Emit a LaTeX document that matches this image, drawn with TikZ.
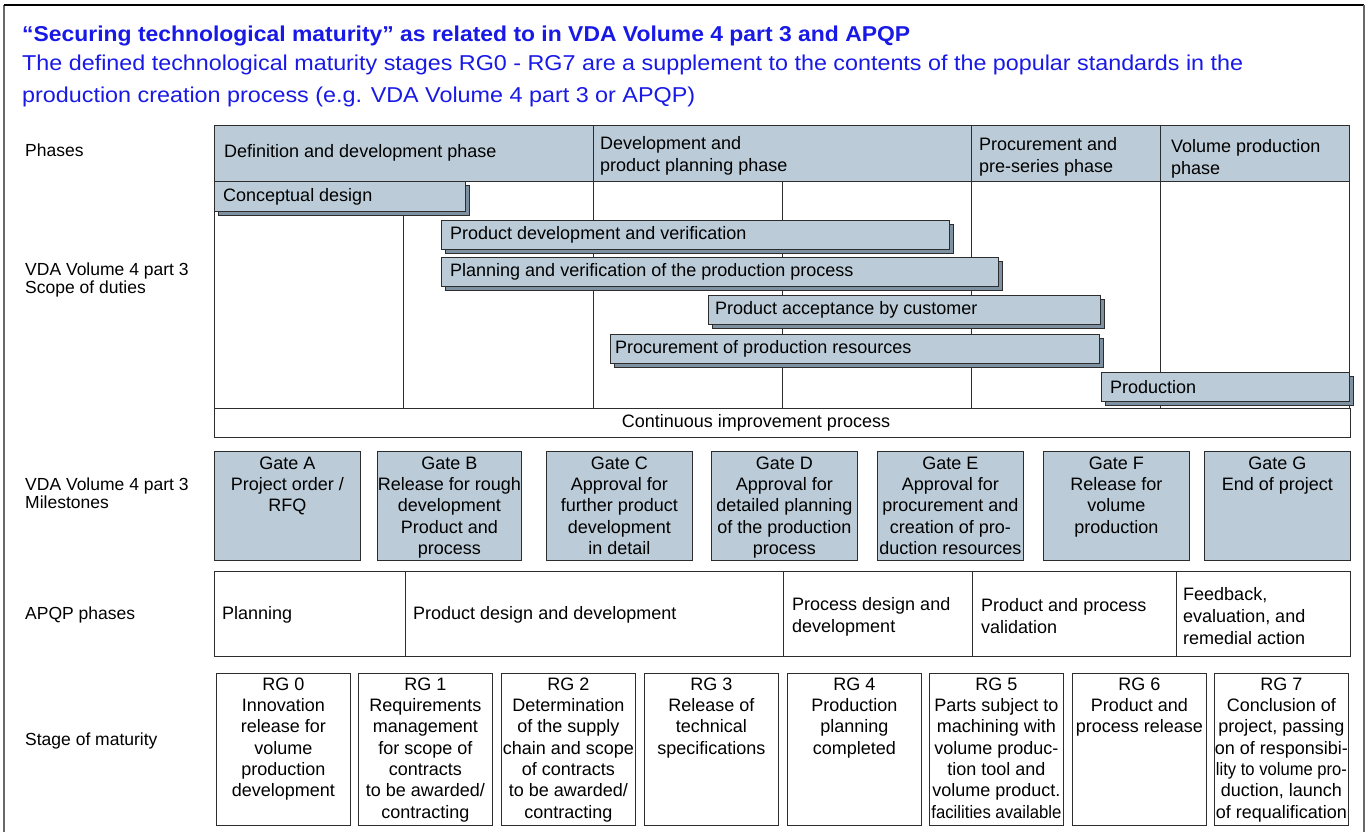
\documentclass[tikz,border=0pt]{standalone}
\usepackage{fontspec}
\setmainfont{Liberation Sans}
\usepackage{graphicx}
\usetikzlibrary{shadows}
\definecolor{tblue}{RGB}{25,25,230}
\definecolor{barfill}{RGB}{187,204,216}
\definecolor{shadfill}{RGB}{125,145,162}
\definecolor{edgecol}{RGB}{45,45,45}
\definecolor{framecol}{RGB}{105,105,105}
\newcommand\sqz[2]{\resizebox{#1pt}{\height}{#2}}
\begin{document}
\begin{tikzpicture}[x=1pt,y=-1pt,
  every node/.style={inner sep=0pt, font=\fontsize{18}{21.3}\selectfont},
  lbl/.style={anchor=west, align=left, font=\fontsize{17.5}{17.5}\selectfont},
  hdr/.style={anchor=west, align=left, font=\fontsize{18}{22}\selectfont},
  barbox/.style={draw=edgecol, fill=barfill, line width=1pt, anchor=north west,
     drop shadow={shadow xshift=4pt, shadow yshift=-4pt, fill=shadfill, draw=edgecol, opacity=1}},
  bartext/.style={anchor=west},
  gatebox/.style={draw=edgecol, fill=barfill, line width=0.9pt, anchor=north west, minimum height=109pt},
  rgbox/.style={draw=edgecol, fill=white, line width=0.9pt, anchor=north west, minimum width=134pt, minimum height=152pt},
  ctext/.style={anchor=north, align=center},
  gridl/.style={draw=edgecol, line width=0.9pt},
]
\useasboundingbox (0,0) rectangle (1368,832);
% outer frame
\draw[framecol, line width=1.5pt] (4,840) -- (4,5);
\draw[black, line width=1.2pt] (4,5) -- (1364,5);
\draw[framecol, line width=2.5pt] (1364,5) -- (1364,840);

% title
\node[anchor=base west, text=tblue] (title) at (22,42)
  {\resizebox{888pt}{\height}{\fontsize{21.5}{24}\selectfont\bfseries “Securing technological maturity” as related to in VDA Volume 4 part 3 and APQP}};
\node[anchor=base west, text=tblue] (sub1) at (22,71)
  {\resizebox{1221pt}{\height}{\fontsize{21.5}{26}\selectfont The defined technological maturity stages RG0 - RG7 are a supplement to the contents of the popular standards in the}};
\node[anchor=base west, text=tblue] (sub2) at (22,103)
  {\resizebox{673pt}{\height}{\fontsize{21.5}{26}\selectfont production creation process (e.g. VDA Volume 4 part 3 or APQP)}};

% left labels
\node[lbl] (lPh) at (25,150) {Phases};
\node[lbl] (lScope) at (25,280) {VDA Volume 4 part 3\\Scope of duties};
\node[lbl] (lMil) at (25,493) {VDA Volume 4 part 3\\Milestones};
\node[lbl] (lApqp) at (25,615) {APQP phases};
\node[lbl] (lStage) at (25,741) {Stage of maturity};

% phases header
\node[draw=edgecol, fill=barfill, line width=0.9pt, anchor=north west, minimum width=1135pt, minimum height=56pt] (ph) at (214,125) {};
\foreach \xx in {593,971,1160} \draw[gridl] (\xx,125) -- (\xx,181);
\node[hdr] (ph1) at (224,153) {Definition and development phase};
\node[hdr] (ph2) at (600,156) {Development and\\product planning phase};
\node[hdr] (ph3) at (979,157) {Procurement and\\pre-series phase};
\node[hdr] (ph4) at (1171,159) {Volume production\\phase};

% scope grid
\foreach \xx in {214,403,593,782,971,1160,1349} \draw[gridl] (\xx,181) -- (\xx,408);

% bars
\node[barbox, minimum width=251pt, minimum height=30pt] (cd) at (214,181) {};
\node[bartext] (cdt) at ([xshift=9pt]cd.west) {Conceptual design};
\node[barbox, minimum width=508pt, minimum height=29pt] (pdv) at (441,220) {};
\node[bartext] (pdvt) at ([xshift=9pt]pdv.west) {Product development and verification};
\node[barbox, minimum width=557pt, minimum height=29pt] (pvp) at (441,257) {};
\node[bartext] (pvpt) at ([xshift=9pt]pvp.west) {Planning and verification of the production process};
\node[barbox, minimum width=392pt, minimum height=29pt] (pac) at (708,295) {};
\node[bartext] (pact) at ([xshift=7pt]pac.west) {Product acceptance by customer};
\node[barbox, minimum width=489pt, minimum height=29pt] (ppr) at (610,334) {};
\node[bartext] (pprt) at ([xshift=5pt]ppr.west) {Procurement of production resources};
\node[barbox, minimum width=248pt, minimum height=29pt] (prod) at (1101,372) {};
\node[bartext] (prodt) at ([xshift=9pt]prod.west) {Production};

% continuous improvement
\node[draw=edgecol, fill=white, line width=0.9pt, anchor=north west, minimum width=1136pt, minimum height=29pt] (cip) at (214,408) {};
\node (cipt) at (756,423) {Continuous improvement process};

% gates
\node[gatebox, minimum width=146pt] (gA) at (214,451) {};
\node[gatebox, minimum width=144pt] (gB) at (377,451) {};
\node[gatebox, minimum width=146pt] (gC) at (546,451) {};
\node[gatebox, minimum width=146pt] (gD) at (711,451) {};
\node[gatebox, minimum width=146pt] (gE) at (877,451) {};
\node[gatebox, minimum width=146pt] (gF) at (1043,451) {};
\node[gatebox, minimum width=146pt] (gG) at (1204,451) {};
\node[ctext] (gAt) at ([yshift=-5.5pt]gA.north) {Gate A\\Project order /\\RFQ};
\node[ctext] (gBt) at ([yshift=-5.5pt]gB.north) {Gate B\\Release for rough\\development\\Product and\\process};
\node[ctext] (gCt) at ([yshift=-5.5pt]gC.north) {Gate C\\Approval for\\further product\\development\\in detail};
\node[ctext] (gDt) at ([yshift=-5.5pt]gD.north) {Gate D\\Approval for\\detailed planning\\of the production\\process};
\node[ctext] (gEt) at ([yshift=-5.5pt]gE.north) {Gate E\\Approval for\\procurement and\\creation of pro-\\duction resources};
\node[ctext] (gFt) at ([yshift=-5.5pt]gF.north) {Gate F\\Release for\\volume\\production};
\node[ctext] (gGt) at ([yshift=-5.5pt]gG.north) {Gate G\\End of project};

% APQP
\node[draw=edgecol, line width=0.9pt, anchor=north west, minimum width=1136pt, minimum height=85pt] (apqp) at (214,571) {};
\foreach \xx in {405,783,972,1176} \draw[gridl] (\xx,571) -- (\xx,656);
\node[hdr] (ap1) at (222,615) {Planning};
\node[hdr] (ap2) at (413,615) {Product design and development};
\node[hdr] (ap3) at (792,617) {Process design and\\development};
\node[hdr] (ap4) at (981,616) {Product and process\\validation};
\node[hdr] (ap5) at (1183,616) {Feedback,\\evaluation, and\\remedial action};

% stages of maturity
\node[rgbox] (r0) at (216,673) {};
\node[rgbox] (r1) at (358,673) {};
\node[rgbox] (r2) at (501,673) {};
\node[rgbox] (r3) at (644,673) {};
\node[rgbox] (r4) at (787,673) {};
\node[rgbox] (r5) at (929,673) {};
\node[rgbox] (r6) at (1072,673) {};
\node[rgbox] (r7) at (1214,673) {};
\node[ctext] (r0t) at ([yshift=-4.5pt]r0.north) {RG 0\\Innovation\\release for\\volume\\production\\development};
\node[ctext] (r1t) at ([yshift=-4.5pt]r1.north) {RG 1\\Requirements\\management\\for scope of\\contracts\\to be awarded/\\contracting};
\node[ctext] (r2t) at ([yshift=-4.5pt]r2.north) {RG 2\\Determination\\of the supply\\chain and scope\\of contracts\\to be awarded/\\contracting};
\node[ctext] (r3t) at ([yshift=-4.5pt]r3.north) {RG 3\\Release of\\technical\\specifications};
\node[ctext] (r4t) at ([yshift=-4.5pt]r4.north) {RG 4\\Production\\planning\\completed};
\node[ctext] (r5t) at ([yshift=-4.5pt]r5.north) {RG 5\\Parts subject to\\machining with\\volume produc-\\tion tool and\\volume product.\\\sqz{130}{facilities available}};
\node[ctext] (r6t) at ([yshift=-4.5pt]r6.north) {RG 6\\Product and\\process release};
\node[ctext] (r7t) at ([yshift=-4.5pt]r7.north) {RG 7\\Conclusion of\\project, passing\\on of responsibi-\\\sqz{131}{lity to volume pro-}\\duction, launch\\of requalification};
\end{tikzpicture}
\end{document}
